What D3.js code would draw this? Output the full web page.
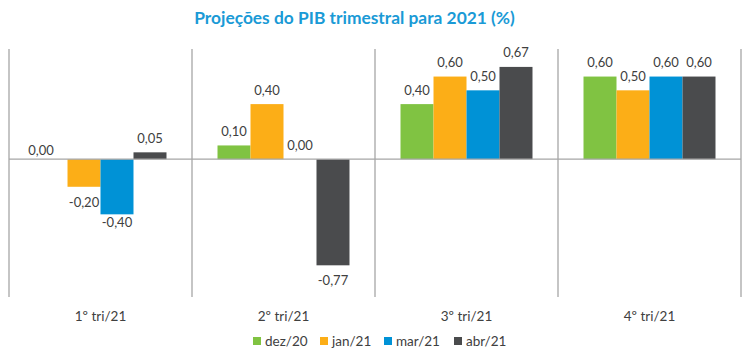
<!DOCTYPE html>
<html><head><meta charset="utf-8">
<script src="https://cdn.jsdelivr.net/npm/d3@7"></script>
<style>body{margin:0;background:#fff}svg{display:block}</style>
</head><body>
<svg id="c" width="751" height="356"></svg>
<script>
const title = "Projeções do PIB trimestral para 2021 (%)";
const categories = ["1º tri/21", "2º tri/21", "3º tri/21", "4º tri/21"];
const seriesNames = ["dez/20", "jan/21", "mar/21", "abr/21"];
const dez20 = [0.00, 0.10, 0.40, 0.60];
const jan21 = [-0.20, 0.40, 0.60, 0.50];
const mar21 = [-0.40, 0.00, 0.50, 0.60];
const abr21 = [0.05, -0.77, 0.67, 0.60];
const colors = ["#80c342", "#fcae17", "#0092d6", "#4a4b4d"];
const yDomain = [-1.0, 0.8];

const seriesValues = [dez20, jan21, mar21, abr21];
const font = "Lato, 'Open Sans', sans-serif";
const textColor = "#404040";
const svg = d3.select("#c");

const x0 = d3.scaleBand().domain(categories).range([9, 741]).paddingInner(0).paddingOuter(0);
const x1 = d3.scaleBand().domain(seriesNames).range([0, x0.bandwidth()]).paddingInner(0).paddingOuter(0.773);
const y = d3.scaleLinear().domain(yDomain).range([297, 49]);

// title
const t = svg.append("text").attr("x", 354.5).attr("y", 24).attr("text-anchor", "middle")
  .attr("font-family", font).attr("font-weight", "bold").attr("font-size", 18)
  .attr("fill", "#1a9ad6").text(title);
const tw = t.node().getComputedTextLength();
t.attr("font-size", 18 * 321 / tw);

// dividers
const divs = categories.map(c => x0(c)).concat([x0(categories[3]) + x0.bandwidth()]);
svg.append("g").selectAll("line").data(divs).join("line")
  .attr("x1", d => d).attr("x2", d => d).attr("y1", y(yDomain[1])).attr("y2", y(yDomain[0]))
  .attr("stroke", "#a6a6a6").attr("stroke-width", 1.3);

// bars
const rows = [];
categories.forEach((c, i) => seriesNames.forEach((s, j) => rows.push({c, s, j, v: seriesValues[j][i]})));
svg.append("g").selectAll("rect").data(rows).join("rect")
  .attr("x", d => x0(d.c) + x1(d.s)).attr("width", x1.bandwidth())
  .attr("y", d => y(Math.max(0, d.v))).attr("height", d => Math.abs(y(d.v) - y(0)))
  .attr("fill", d => colors[d.j]);

// zero line
svg.append("line").attr("x1", 9).attr("x2", 741).attr("y1", y(0)).attr("y2", y(0))
  .attr("stroke", "#a6a6a6").attr("stroke-width", 1.3);

// value labels
const fmt = v => v.toFixed(2).replace(".", ",");
const nudge = {"1º tri/21|dez/20": [-10, 5], "1º tri/21|mar/21": [0, -7]};
svg.append("g").selectAll("text").data(rows).join("text")
  .attr("x", d => x0(d.c) + x1(d.s) + x1.bandwidth() / 2 + ((nudge[d.c + "|" + d.s] || [0, 0])[0]))
  .attr("y", d => (d.v < 0 ? y(d.v) + 20 : y(d.v) - 9.5) + ((nudge[d.c + "|" + d.s] || [0, 0])[1]))
  .attr("text-anchor", "middle").attr("font-family", font).attr("font-size", 13)
  .attr("fill", textColor).text(d => fmt(d.v));

// category labels
svg.append("g").selectAll("text").data(categories).join("text")
  .attr("x", d => x0(d) + x0.bandwidth() / 2).attr("y", 321)
  .attr("text-anchor", "middle").attr("font-family", font).attr("font-size", 13.5)
  .attr("fill", textColor).text(d => d);

// legend
const legX = [253, 320, 384, 454];
const lg = svg.append("g").selectAll("g").data(seriesNames).join("g")
  .attr("transform", (d, i) => `translate(${legX[i]},337)`);
lg.append("rect").attr("width", 8).attr("height", 8).attr("fill", (d, i) => colors[i]);
lg.append("text").attr("x", 12).attr("y", 8.5).attr("font-family", font).attr("font-size", 13.5)
  .attr("fill", textColor).text(d => d);
</script>
</body></html>
